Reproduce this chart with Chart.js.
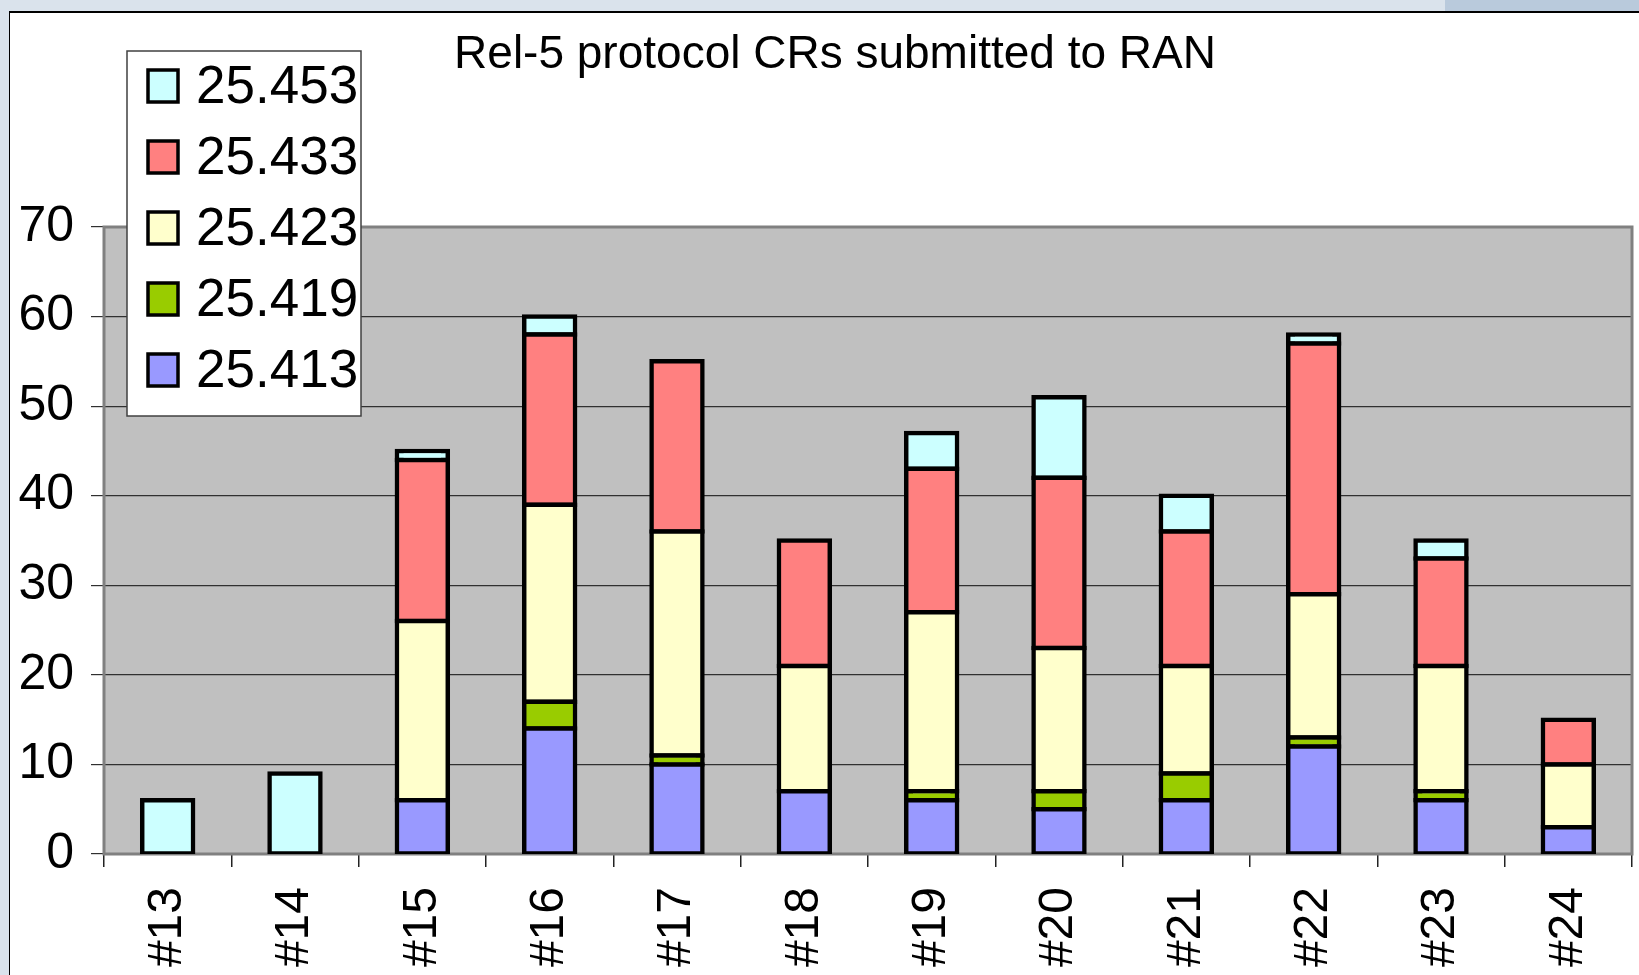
<!DOCTYPE html>
<html>
<head>
<meta charset="utf-8">
<title>Rel-5 protocol CRs submitted to RAN</title>
<script src="https://cdn.jsdelivr.net/npm/chart.js@4/dist/chart.umd.min.js"></script>
<style>
    html, body {
        margin: 0;
        padding: 0;
        width: 1639px;
        height: 975px;
        overflow: hidden;
        background: #dae3ec;
    }
    #top-strip {
        position: absolute;
        left: 1445px;
        top: 0;
        width: 194px;
        height: 12px;
        background: #b9cadc;
    }
    #frame {
        position: absolute;
        left: 9px;
        top: 11px;
        width: 1640px;
        height: 980px;
        background: #ffffff;
        border-left: 1px solid #000;
        border-top: 2px solid #000;
    }
    #chart-wrap {
        position: absolute;
        left: 0;
        top: 0;
        width: 1639px;
        height: 975px;
    }
</style>
</head>
<body>
<div id="top-strip"></div>
<div id="frame"></div>
<div id="chart-wrap"><canvas id="crChart" width="1639" height="975"></canvas></div>

<script>
// meetings (x axis)
const meetings = ['#13', '#14', '#15', '#16', '#17', '#18', '#19', '#20', '#21', '#22', '#23', '#24'];

// CR counts per spec, bottom of stack first
const spec25413 = [0, 0, 6, 14, 10, 7, 6, 5, 6, 12, 6, 3];
const spec25419 = [0, 0, 0, 3, 1, 0, 1, 2, 3, 1, 1, 0];
const spec25423 = [0, 0, 20, 22, 25, 14, 20, 16, 12, 16, 14, 7];
const spec25433 = [0, 0, 18, 19, 19, 14, 16, 19, 15, 28, 12, 5];
const spec25453 = [6, 9, 1, 2, 0, 0, 4, 9, 4, 1, 2, 0];

const specNames = ['25.413', '25.419', '25.423', '25.433', '25.453'];
const specColors = ['#9999ff', '#99cc00', '#ffffcc', '#ff8080', '#ccffff'];
const specValues = [spec25413, spec25419, spec25423, spec25433, spec25453];

const yTicks = [0, 10, 20, 30, 40, 50, 60, 70];

const chartTitle = 'Rel-5 protocol CRs submitted to RAN';
const FONT = '"Liberation Sans", Arial, sans-serif';

// grey plot area + its border, like the old Excel chart
const plotAreaPlugin = {
    id: 'plotArea',
    beforeDraw(chart) {
        const { ctx, chartArea: a } = chart;
        ctx.save();
        ctx.fillStyle = '#c0c0c0';
        ctx.fillRect(a.left, a.top, a.right - a.left, a.bottom - a.top);
        ctx.restore();
    },
    beforeDatasetsDraw(chart) {
        const { ctx, chartArea: a } = chart;
        ctx.save();
        ctx.strokeStyle = '#808080';
        ctx.lineWidth = 3;
        ctx.strokeRect(a.left, a.top, a.right - a.left, a.bottom - a.top);
        ctx.restore();
    }
};

// title and legend box sit where the original had them (overlapping the plot)
const overlayPlugin = {
    id: 'overlay',
    afterDraw(chart) {
        const ctx = chart.ctx;
        ctx.save();

        ctx.fillStyle = '#000';
        ctx.font = '46px ' + FONT;
        ctx.textAlign = 'center';
        ctx.textBaseline = 'alphabetic';
        ctx.fillText(chartTitle, 835, 68);

        // legend box
        ctx.fillStyle = '#ffffff';
        ctx.fillRect(127, 51, 234, 365);
        ctx.strokeStyle = '#404040';
        ctx.lineWidth = 1.5;
        ctx.strokeRect(127, 51, 234, 365);

        const items = chart.data.datasets.slice().reverse();
        ctx.font = '53px ' + FONT;
        ctx.textAlign = 'left';
        ctx.textBaseline = 'middle';
        items.forEach((ds, i) => {
            const cy = 86 + i * 71;
            ctx.fillStyle = ds.backgroundColor;
            ctx.fillRect(148, cy - 16, 30, 32);
            ctx.strokeStyle = '#000';
            ctx.lineWidth = 3.5;
            ctx.strokeRect(148, cy - 16, 30, 32);
            ctx.fillStyle = '#000';
            ctx.fillText(ds.label, 196, cy + 2);
        });

        ctx.restore();
    }
};

document.addEventListener('DOMContentLoaded', () => {
    const canvas = document.getElementById('crChart');

    const datasets = specNames.map((name, i) => ({
        label: name,
        data: specValues[i].map(v => (v === 0 ? null : v)),
        backgroundColor: specColors[i],
        borderColor: '#000000',
        borderWidth: 4.5,
        borderSkipped: false,
        inflateAmount: 2.25,
        barPercentage: 0.40,
        categoryPercentage: 1.0
    }));

    new Chart(canvas, {
        type: 'bar',
        data: {
            labels: meetings,
            datasets: datasets
        },
        options: {
            responsive: false,
            devicePixelRatio: 1,
            animation: false,
            events: [],
            layout: {
                padding: { left: 0, top: 227, right: 7, bottom: 0 }
            },
            plugins: {
                legend: { display: false },
                title: { display: false },
                tooltip: { enabled: false }
            },
            scales: {
                x: {
                    stacked: true,
                    afterFit(scale) {
                        scale.height = 121;
                        scale.paddingLeft = 0;
                        scale.paddingRight = 0;
                    },
                    border: { display: false },
                    grid: {
                        display: true,
                        drawOnChartArea: false,
                        drawTicks: true,
                        tickLength: 13,
                        color: '#222222',
                        lineWidth: 1.5
                    },
                    ticks: {
                        minRotation: 90,
                        maxRotation: 90,
                        autoSkip: false,
                        padding: 20,
                        color: '#000',
                        font: { family: FONT, size: 48 }
                    }
                },
                y: {
                    stacked: true,
                    min: yTicks[0],
                    max: yTicks[yTicks.length - 1],
                    afterFit(scale) {
                        scale.width = 104;
                        scale.paddingTop = 0;
                        scale.paddingBottom = 0;
                    },
                    afterBuildTicks(scale) {
                        scale.ticks = yTicks.map(v => ({ value: v }));
                    },
                    border: { display: false },
                    grid: {
                        color: '#303030',
                        lineWidth: 1.2,
                        tickLength: 13
                    },
                    ticks: {
                        padding: 17,
                        color: '#000',
                        font: { family: FONT, size: 50 }
                    }
                }
            }
        },
        plugins: [plotAreaPlugin, overlayPlugin]
    });
});
</script>
</body>
</html>
